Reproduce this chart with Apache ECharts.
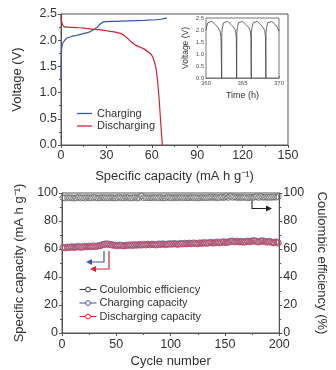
<!DOCTYPE html>
<html>
<head>
<meta charset="utf-8">
<script src="https://cdn.jsdelivr.net/npm/echarts@6/dist/echarts.min.js"></script>
<style>
  html, body { margin: 0; padding: 0; background: #fff; }
  #chart { width: 336px; height: 370px; }
</style>
</head>
<body>
<div id="chart"></div>
<script>
// Galvanostatic charge curve: [specific capacity (mA h g-1), voltage (V)]
const chargeCurve = [
  [0, 1.22], [0.3, 1.75], [0.7, 1.9], [2, 1.98], [4, 2.04], [7, 2.07], [10, 2.09],
  [14, 2.12], [18, 2.15], [21, 2.19], [24, 2.25], [26, 2.31], [28, 2.35], [35, 2.36],
  [45, 2.37], [55, 2.38], [63, 2.39], [68, 2.41], [70, 2.42]
];
// Discharge curve
const dischargeCurve = [
  [0, 2.47], [0.3, 2.38], [1, 2.3], [2, 2.26], [5, 2.25], [10, 2.24], [15, 2.23],
  [20, 2.21], [25, 2.2], [30, 2.18], [35, 2.16], [40, 2.12], [43, 2.06], [46, 1.98],
  [49, 1.91], [52, 1.87], [55, 1.83], [58, 1.77], [60, 1.71], [61, 1.65], [62.5, 1.5],
  [63.5, 1.3], [64.5, 1.0], [65.5, 0.6], [66.3, 0.25], [67, 0]
];
// Inset: voltage profile over time (h)
const insetTime = [
  360.0, 360.1, 360.25, 360.4, 360.8, 360.95, 361.05, 361.3, 361.6, 361.9, 362.05, 362.15,
  362.17, 362.25, 362.4, 362.55, 362.95, 363.1, 363.2, 363.45, 363.75, 364.05, 364.15, 364.2,
  364.22, 364.3, 364.45, 364.6, 365.0, 365.15, 365.25, 365.5, 365.8, 366.05, 366.15, 366.2,
  366.22, 366.3, 366.45, 366.6, 367.0, 367.15, 367.25, 367.5, 367.8, 368.05, 368.15, 368.2,
  368.22, 368.3, 368.45, 368.6, 369.0, 369.15, 369.25, 369.5, 369.8, 370.0
];
const insetVolt = [
  2.0, 2.15, 2.3, 2.35, 2.36, 2.41, 2.3, 2.22, 2.12, 1.98, 1.7, 0,
  1.9, 2.1, 2.3, 2.35, 2.36, 2.41, 2.3, 2.22, 2.12, 1.98, 1.7, 0,
  1.9, 2.1, 2.3, 2.35, 2.36, 2.41, 2.3, 2.22, 2.12, 1.98, 1.7, 0,
  1.9, 2.1, 2.3, 2.35, 2.36, 2.41, 2.3, 2.22, 2.12, 1.98, 1.7, 0,
  1.9, 2.1, 2.3, 2.35, 2.36, 2.41, 2.3, 2.22, 2.1, 1.95
];

// Cycling data, recorded every second cycle (1, 3, 5, ... 199)
const chargingCapacity = [
  61.2, 61.0, 61.5, 61.3, 61.8, 61.4, 61.6, 61.9, 61.5, 61.7,
  62.0, 61.8, 62.1, 61.9, 62.3, 62.0, 62.4, 62.6, 63.2, 63.5,
  63.8, 63.6, 63.3, 63.0, 62.8, 62.6, 62.9, 62.7, 62.5, 62.8,
  62.9, 63.1, 62.8, 63.2, 63.0, 63.3, 63.1, 63.4, 63.2, 63.5,
  63.3, 63.6, 63.4, 63.2, 63.7, 63.5, 63.8, 63.4, 63.6, 63.9,
  63.7, 64.0, 63.8, 63.6, 64.1, 63.9, 64.2, 64.0, 64.3, 64.1,
  64.4, 64.2, 64.0, 64.5, 64.3, 64.7, 64.4, 64.6, 64.9, 64.5,
  64.8, 65.1, 64.7, 65.0, 65.3, 64.9, 65.2, 65.6, 65.9, 65.4,
  65.7, 65.3, 65.6, 65.1, 65.5, 65.8, 65.4, 65.9, 66.1, 65.6,
  65.3, 65.8, 66.0, 65.5, 65.2, 65.6, 65.0, 64.8, 65.2, 64.6
];
const dischargingCapacity = [
  61.0, 60.7, 61.1, 61.0, 61.4, 61.0, 61.3, 61.5, 61.1, 61.3,
  61.6, 61.5, 61.7, 61.5, 61.9, 61.6, 62.0, 62.2, 62.8, 63.1,
  63.4, 63.2, 62.9, 62.6, 62.4, 62.2, 62.5, 62.3, 62.1, 62.4,
  62.5, 62.7, 62.4, 62.8, 62.6, 62.9, 62.7, 63.0, 62.8, 63.1,
  62.9, 63.2, 63.0, 62.8, 63.3, 63.1, 63.4, 63.0, 63.2, 63.5,
  63.3, 63.6, 63.4, 63.2, 63.7, 63.5, 63.8, 63.6, 63.9, 63.7,
  64.0, 63.8, 63.6, 64.1, 63.9, 64.3, 64.0, 64.2, 64.5, 64.1,
  64.4, 64.7, 64.3, 64.6, 64.9, 64.5, 64.8, 65.2, 65.5, 65.0,
  65.3, 64.9, 65.2, 64.7, 65.1, 65.4, 65.0, 65.5, 65.7, 65.2,
  64.9, 65.4, 65.6, 65.1, 64.8, 65.2, 64.6, 64.4, 64.8, 64.2
];
const coulombicEfficiency = [
  96.6, 96.4, 96.8, 96.5, 96.7, 96.3, 96.6, 96.9, 96.5, 96.7,
  96.4, 96.8, 96.6, 96.5, 96.9, 96.7, 96.4, 96.6, 96.8, 96.5,
  96.7, 96.5, 96.8, 96.6, 96.4, 96.7, 96.9, 96.5, 96.6, 96.8,
  96.7, 96.4, 96.6, 96.9, 96.5, 96.7, 97.8, 96.6, 96.8, 96.5,
  96.7, 96.6, 96.9, 96.5, 96.7, 96.8, 96.4, 96.6, 96.9, 96.7,
  96.5, 96.8, 96.6, 96.7, 96.9, 96.5, 96.8, 96.6, 96.7, 96.9,
  96.6, 96.8, 96.5, 96.7, 96.9, 96.6, 96.8, 96.7, 97.1, 96.8,
  96.9, 96.6, 96.8, 97.0, 96.7, 97.4, 96.8, 97.6, 96.9, 97.2,
  96.8, 96.9, 96.7, 97.0, 96.8, 96.6, 96.9, 96.7, 97.0, 97.3,
  96.8, 97.5, 96.9, 97.1, 96.8, 97.0, 96.9, 97.2, 97.0, 97.4
];
const cycleStep = 2;
const withCycle = vals => vals.map((v, i) => [1 + i * cycleStep, v]);

const capacityTicks = { min: 0, max: 150, interval: 30 };
const voltageTicks = { min: 0, max: 2.5, interval: 0.5 };
const cycleTicks = { min: 0, max: 200, interval: 50 };
const percentTicks = { min: 0, max: 100, interval: 20 };

const FONT = 'Liberation Sans, Arial, Helvetica, sans-serif';
const AX = '#555';
const TXT = '#333';
const BLUE = '#3b57a5';
const RED = '#d0262f';
const BLUE_MK = '#6077bd';
const RED_MK = '#c2465c';
const GREY_MK = '#6a6a6a';
const CLEAR = 'rgba(255,255,255,0)';

function axisCommon(extra) {
  return Object.assign({
    type: 'value',
    axisLine: { show: true, onZero: false, lineStyle: { color: AX, width: 1 } },
    axisTick: { show: true, inside: false, length: 3, lineStyle: { color: AX } },
    minorTick: { show: true, splitNumber: 2, length: 2, lineStyle: { color: AX } },
    splitLine: { show: false },
    axisLabel: { color: TXT, fontSize: 12.5, fontFamily: FONT, margin: 4 },
    nameLocation: 'middle',
    nameTextStyle: { color: TXT, fontSize: 13, fontFamily: FONT }
  }, extra);
}

const chart = echarts.init(document.getElementById('chart'), null, { renderer: 'canvas' });

const option = {
  animation: false,
  backgroundColor: '#fff',
  textStyle: { fontFamily: FONT },
  grid: [
    { left: 61, top: 14, width: 227, height: 131, show: true, borderColor: AX, borderWidth: 1, backgroundColor: 'transparent' },
    { left: 206, top: 18, width: 73, height: 60, show: true, borderColor: '#777', borderWidth: 1, backgroundColor: '#fff', z: 5 },
    { left: 62, top: 193, width: 225, height: 140, show: true, borderColor: AX, borderWidth: 1, backgroundColor: 'transparent' }
  ],
  xAxis: [
    axisCommon(Object.assign({ gridIndex: 0, name: 'Specific capacity (mA h g\u207B\u00B9)', nameGap: 25 }, capacityTicks)),
    axisCommon(Object.assign({
      gridIndex: 1, name: 'Time (h)', nameGap: 13, min: 360, max: 370, interval: 5,
      axisLine: { show: true, onZero: false, lineStyle: { color: '#777', width: 1 } },
      axisTick: { show: true, inside: true, length: 2, lineStyle: { color: '#777' } },
      minorTick: { show: false },
      axisLabel: { color: '#555', fontSize: 6, fontFamily: FONT, margin: 2 },
      nameTextStyle: { color: TXT, fontSize: 9, fontFamily: FONT }
    })),
    axisCommon(Object.assign({ gridIndex: 2, name: 'Cycle number', nameGap: 22,
      axisLabel: { color: TXT, fontSize: 12.5, fontFamily: FONT, margin: 5 } }, cycleTicks))
  ],
  yAxis: [
    axisCommon(Object.assign({
      gridIndex: 0, name: 'Voltage (V)', nameGap: 37,
      axisLabel: { color: TXT, fontSize: 12.5, fontFamily: FONT, margin: 4, formatter: v => v.toFixed(1) }
    }, voltageTicks)),
    axisCommon(Object.assign({
      gridIndex: 1, name: 'Voltage (V)', nameGap: 16, min: 0, max: 2.5, interval: 0.5,
      axisLine: { show: true, onZero: false, lineStyle: { color: '#777', width: 1 } },
      axisTick: { show: true, inside: true, length: 2, lineStyle: { color: '#777' } },
      minorTick: { show: false },
      axisLabel: { color: '#555', fontSize: 6, fontFamily: FONT, margin: 2, formatter: v => v.toFixed(1) },
      nameTextStyle: { color: TXT, fontSize: 8.5, fontFamily: FONT }
    })),
    axisCommon(Object.assign({ gridIndex: 2, name: 'Specific capacity (mA h g\u207B\u00B9)', nameGap: 36 }, percentTicks)),
    axisCommon(Object.assign({ gridIndex: 2, position: 'right', name: 'Coulombic efficiency (%)', nameGap: 35, nameRotate: -90 }, percentTicks))
  ],
  legend: [
    {
      orient: 'vertical', left: 72, top: 103, itemWidth: 15, itemHeight: 1.3, itemGap: 1.5,
      icon: 'rect',
      textStyle: { color: TXT, fontSize: 11, fontFamily: FONT, padding: [0, 0, 0, 0] },
      data: [
        { name: 'Charging', itemStyle: { color: BLUE, borderWidth: 0 } },
        { name: 'Discharging', itemStyle: { color: RED, borderWidth: 0 } }
      ]
    },
    {
      orient: 'vertical', left: 74, top: 279, itemWidth: 17, itemHeight: 6, itemGap: 2.5,
      textStyle: { color: TXT, fontSize: 11, fontFamily: FONT, padding: [0, 0, 0, -2] },
      data: [
        { name: 'Coulombic efficiency', lineStyle: { color: '#333', width: 1, opacity: 1 },
          itemStyle: { color: '#fff', borderColor: '#333', borderWidth: 1 } },
        { name: 'Charging capacity', lineStyle: { color: BLUE, width: 1, opacity: 1 },
          itemStyle: { color: '#fff', borderColor: BLUE, borderWidth: 1 } },
        { name: 'Discharging capacity', lineStyle: { color: RED, width: 1, opacity: 1 },
          itemStyle: { color: '#fff', borderColor: RED, borderWidth: 1 } }
      ]
    }
  ],
  series: [
    {
      name: 'Charging', type: 'line', xAxisIndex: 0, yAxisIndex: 0,
      data: chargeCurve, symbol: 'none', smooth: 0.3,
      lineStyle: { color: BLUE, width: 1.2 }, itemStyle: { color: BLUE }
    },
    {
      name: 'Discharging', type: 'line', xAxisIndex: 0, yAxisIndex: 0,
      data: dischargeCurve, symbol: 'none', smooth: 0.3,
      lineStyle: { color: RED, width: 1.2 }, itemStyle: { color: RED }
    },
    {
      name: 'Inset voltage', type: 'line', xAxisIndex: 1, yAxisIndex: 1, z: 6,
      data: insetTime.map((t, i) => [t, insetVolt[i]]), symbol: 'none',
      lineStyle: { color: '#444', width: 0.8 }
    },
    {
      name: 'Coulombic efficiency', type: 'line', xAxisIndex: 2, yAxisIndex: 3,
      data: withCycle(coulombicEfficiency), symbol: 'circle', symbolSize: 6, showSymbol: true,
      lineStyle: { width: 0 },
      itemStyle: { color: CLEAR, borderColor: GREY_MK, borderWidth: 0.8 }
    },
    {
      name: 'Charging capacity', type: 'line', xAxisIndex: 2, yAxisIndex: 2,
      data: withCycle(chargingCapacity), symbol: 'circle', symbolSize: 6, showSymbol: true,
      lineStyle: { width: 0 },
      itemStyle: { color: CLEAR, borderColor: BLUE_MK, borderWidth: 0.8 }
    },
    {
      name: 'Discharging capacity', type: 'line', xAxisIndex: 2, yAxisIndex: 2,
      data: withCycle(dischargingCapacity), symbol: 'circle', symbolSize: 6, showSymbol: true,
      lineStyle: { width: 0 },
      itemStyle: { color: CLEAR, borderColor: RED_MK, borderWidth: 0.8 }
    }
  ],
  graphic: [
    // arrows pointing each series to its axis: capacity -> left, efficiency -> right
    { type: 'polyline', shape: { points: [[104, 251], [104, 262], [91, 262]] }, style: { stroke: BLUE, lineWidth: 1.2, fill: null } },
    { type: 'polygon', shape: { points: [[92, 259], [86, 262], [92, 265]] }, style: { fill: BLUE } },
    { type: 'polyline', shape: { points: [[109, 251], [109, 269], [95, 269]] }, style: { stroke: RED, lineWidth: 1.2, fill: null } },
    { type: 'polygon', shape: { points: [[96, 266], [90, 269], [96, 272]] }, style: { fill: RED } },
    { type: 'polyline', shape: { points: [[252, 201], [252, 208.5], [267, 208.5]] }, style: { stroke: '#222', lineWidth: 1.1, fill: null } },
    { type: 'polygon', shape: { points: [[266, 205.5], [272, 208.5], [266, 211.5]] }, style: { fill: '#222' } }
  ]
};

chart.setOption(option);
</script>
</body>
</html>
